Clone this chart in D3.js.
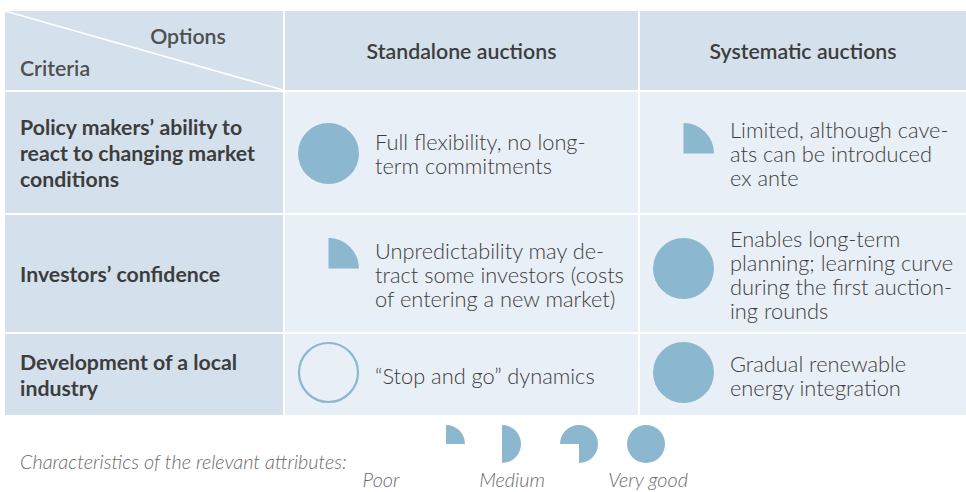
<!DOCTYPE html>
<html><head><meta charset="utf-8">
<script src="https://cdn.jsdelivr.net/npm/d3@7"></script>
<style>html,body{margin:0;padding:0;background:#fff;}svg{display:block;}</style>
</head><body>
<svg id="c" width="966" height="492"></svg>
<script>
// ---- data ----
const options = ["Standalone auctions", "Systematic auctions"];
const criteria = [
  ["Policy makers’ ability to", "react to changing market", "conditions"],
  ["Investors’ confidence"],
  ["Development of a local", "industry"]
];
// rating 0..4 (0 = empty, 1 = poor quarter, 4 = very good full)
const standaloneScores = [4, 1, 0];
const systematicScores = [1, 4, 4];
const standaloneNotes = [
  ["Full flexibility, no long-", "term commitments"],
  ["Unpredictability may de-", "tract some investors (costs", "of entering a new market)"],
  ["“Stop and go” dynamics"]
];
const systematicNotes = [
  ["Limited, although cave-", "ats can be introduced", "ex ante"],
  ["Enables long-term", "planning; learning curve", "during the first auction-", "ing rounds"],
  ["Gradual renewable", "energy integration"]
];
const legendTitle = "Characteristics of the relevant attributes:";
const legendScores = [1, 2, 3, 4];
const legendLabels = ["Poor", "Medium", "Very good"];

// ---- layout ----
const svg = d3.select("#c");
const colEdges = [5, 285, 640, 968];
const rowEdges = [11, 92, 215, 334, 417];
const gap = 2;
const iconDy = [1, -5, -2];
const headBg = "#d4e1ec", cellBg = "#e9eff6", ink = "#3d3d3d", icon = "#8bb7cf";
const fam = "Lato, 'Open Sans', 'DejaVu Sans', sans-serif";

function fitSize(str, target, weight, style) {
  const t = svg.append("text").attr("font-family", fam).attr("font-size", 100)
    .attr("font-weight", weight).attr("font-style", style || "normal").text(str);
  const w = t.node().getComputedTextLength(); t.remove();
  return 100 * target / w;
}
const fsHead = fitSize("Standalone auctions", 190, 600);
const fsCrit = fitSize("react to changing market", 235, 700);
const fsBody = fitSize("tract some investors (costs", 249, 300);
const fsLeg = fitSize(legendTitle, 327, 300, "italic");

// backgrounds
for (let r = 0; r < 4; r++) {
  for (let c = 0; c < 3; c++) {
    svg.append("rect")
      .attr("x", colEdges[c]).attr("y", rowEdges[r])
      .attr("width", colEdges[c+1] - colEdges[c] - gap)
      .attr("height", rowEdges[r+1] - rowEdges[r] - gap)
      .attr("fill", (r === 0 || c === 0) ? headBg : cellBg);
  }
}
// diagonal
svg.append("line").attr("x1", colEdges[0]).attr("y1", rowEdges[0])
  .attr("x2", colEdges[1] - gap).attr("y2", rowEdges[1] - gap)
  .attr("stroke", "#fff").attr("stroke-width", 1.6);

// header texts
svg.append("text").attr("x", 188).attr("y", 37).attr("dy", "0.35em").attr("text-anchor", "middle")
  .attr("font-family", fam).attr("font-weight", 600).attr("font-size", fsHead).attr("fill", "#505050").text("Options");
svg.append("text").attr("x", 20).attr("y", 69).attr("dy", "0.35em")
  .attr("font-family", fam).attr("font-weight", 600).attr("font-size", fsHead).attr("fill", "#505050").text("Criteria");
const headMidY = (rowEdges[0] + rowEdges[1] - gap) / 2;
options.forEach((o, i) => {
  svg.append("text").attr("x", (colEdges[i+1] + colEdges[i+2] - gap) / 2).attr("y", headMidY + 1)
    .attr("dy", "0.35em").attr("text-anchor", "middle")
    .attr("font-family", fam).attr("font-weight", 600).attr("font-size", fsHead).attr("fill", ink).text(o);
});

// multi-line paragraph as one text element with tspans
function para(x, cy, arr, size, lh, weight, fill) {
  const y0 = cy - (arr.length - 1) * lh / 2;
  const t = svg.append("text").attr("font-family", fam).attr("font-weight", weight)
    .attr("font-size", size).attr("fill", fill);
  arr.forEach((s, i) => {
    t.append("tspan").attr("x", x).attr("y", y0 + i * lh).attr("dy", "0.35em").text(s);
  });
}

const arc = d3.arc().innerRadius(0);
function drawIcon(g, cx, cy, r, v) {
  if (v === 0) {
    g.append("circle").attr("cx", cx).attr("cy", cy).attr("r", r - 1)
      .attr("fill", "none").attr("stroke", icon).attr("stroke-width", 2.2);
  } else if (v === 4) {
    g.append("circle").attr("cx", cx).attr("cy", cy).attr("r", r).attr("fill", icon);
  } else {
    const s = v === 3 ? -Math.PI / 2 : 0;
    const e = v === 3 ? Math.PI : v * Math.PI / 2;
    g.append("path").attr("transform", `translate(${cx},${cy})`)
      .attr("d", arc({outerRadius: r, startAngle: s, endAngle: e})).attr("fill", icon);
  }
}

const scoreCols = [standaloneScores, systematicScores];
const noteCols = [standaloneNotes, systematicNotes];
criteria.forEach((crit, r) => {
  const top = rowEdges[r+1], bot = rowEdges[r+2] - gap;
  const mid = (top + bot) / 2;
  para(20, mid + 1.5, crit, fsCrit, 26, 700, ink);
  for (let c = 0; c < 2; c++) {
    const left = colEdges[c+1];
    drawIcon(svg, left + 43.5, mid + iconDy[r], 30.5, scoreCols[c][r]);
    para(left + 90, mid + 1.5, noteCols[c][r], fsBody, 24, 300, ink);
  }
});

// legend
svg.append("text").attr("x", 20).attr("y", 462).attr("dy", "0.35em")
  .attr("font-family", fam).attr("font-style", "italic").attr("font-weight", 300)
  .attr("font-size", fsLeg).attr("fill", "#6a6a6a").text(legendTitle);
const legX = [446, 502, 579, 646];
legendScores.forEach((v, i) => drawIcon(svg, legX[i], 444, 19, v));
const legLabelX = [381, 512, 648];
legendLabels.forEach((l, i) => {
  svg.append("text").attr("x", legLabelX[i]).attr("y", 480).attr("dy", "0.35em").attr("text-anchor", "middle")
    .attr("font-family", fam).attr("font-style", "italic").attr("font-weight", 300)
    .attr("font-size", fsLeg).attr("fill", "#6a6a6a").text(l);
});
</script>
</body></html>
